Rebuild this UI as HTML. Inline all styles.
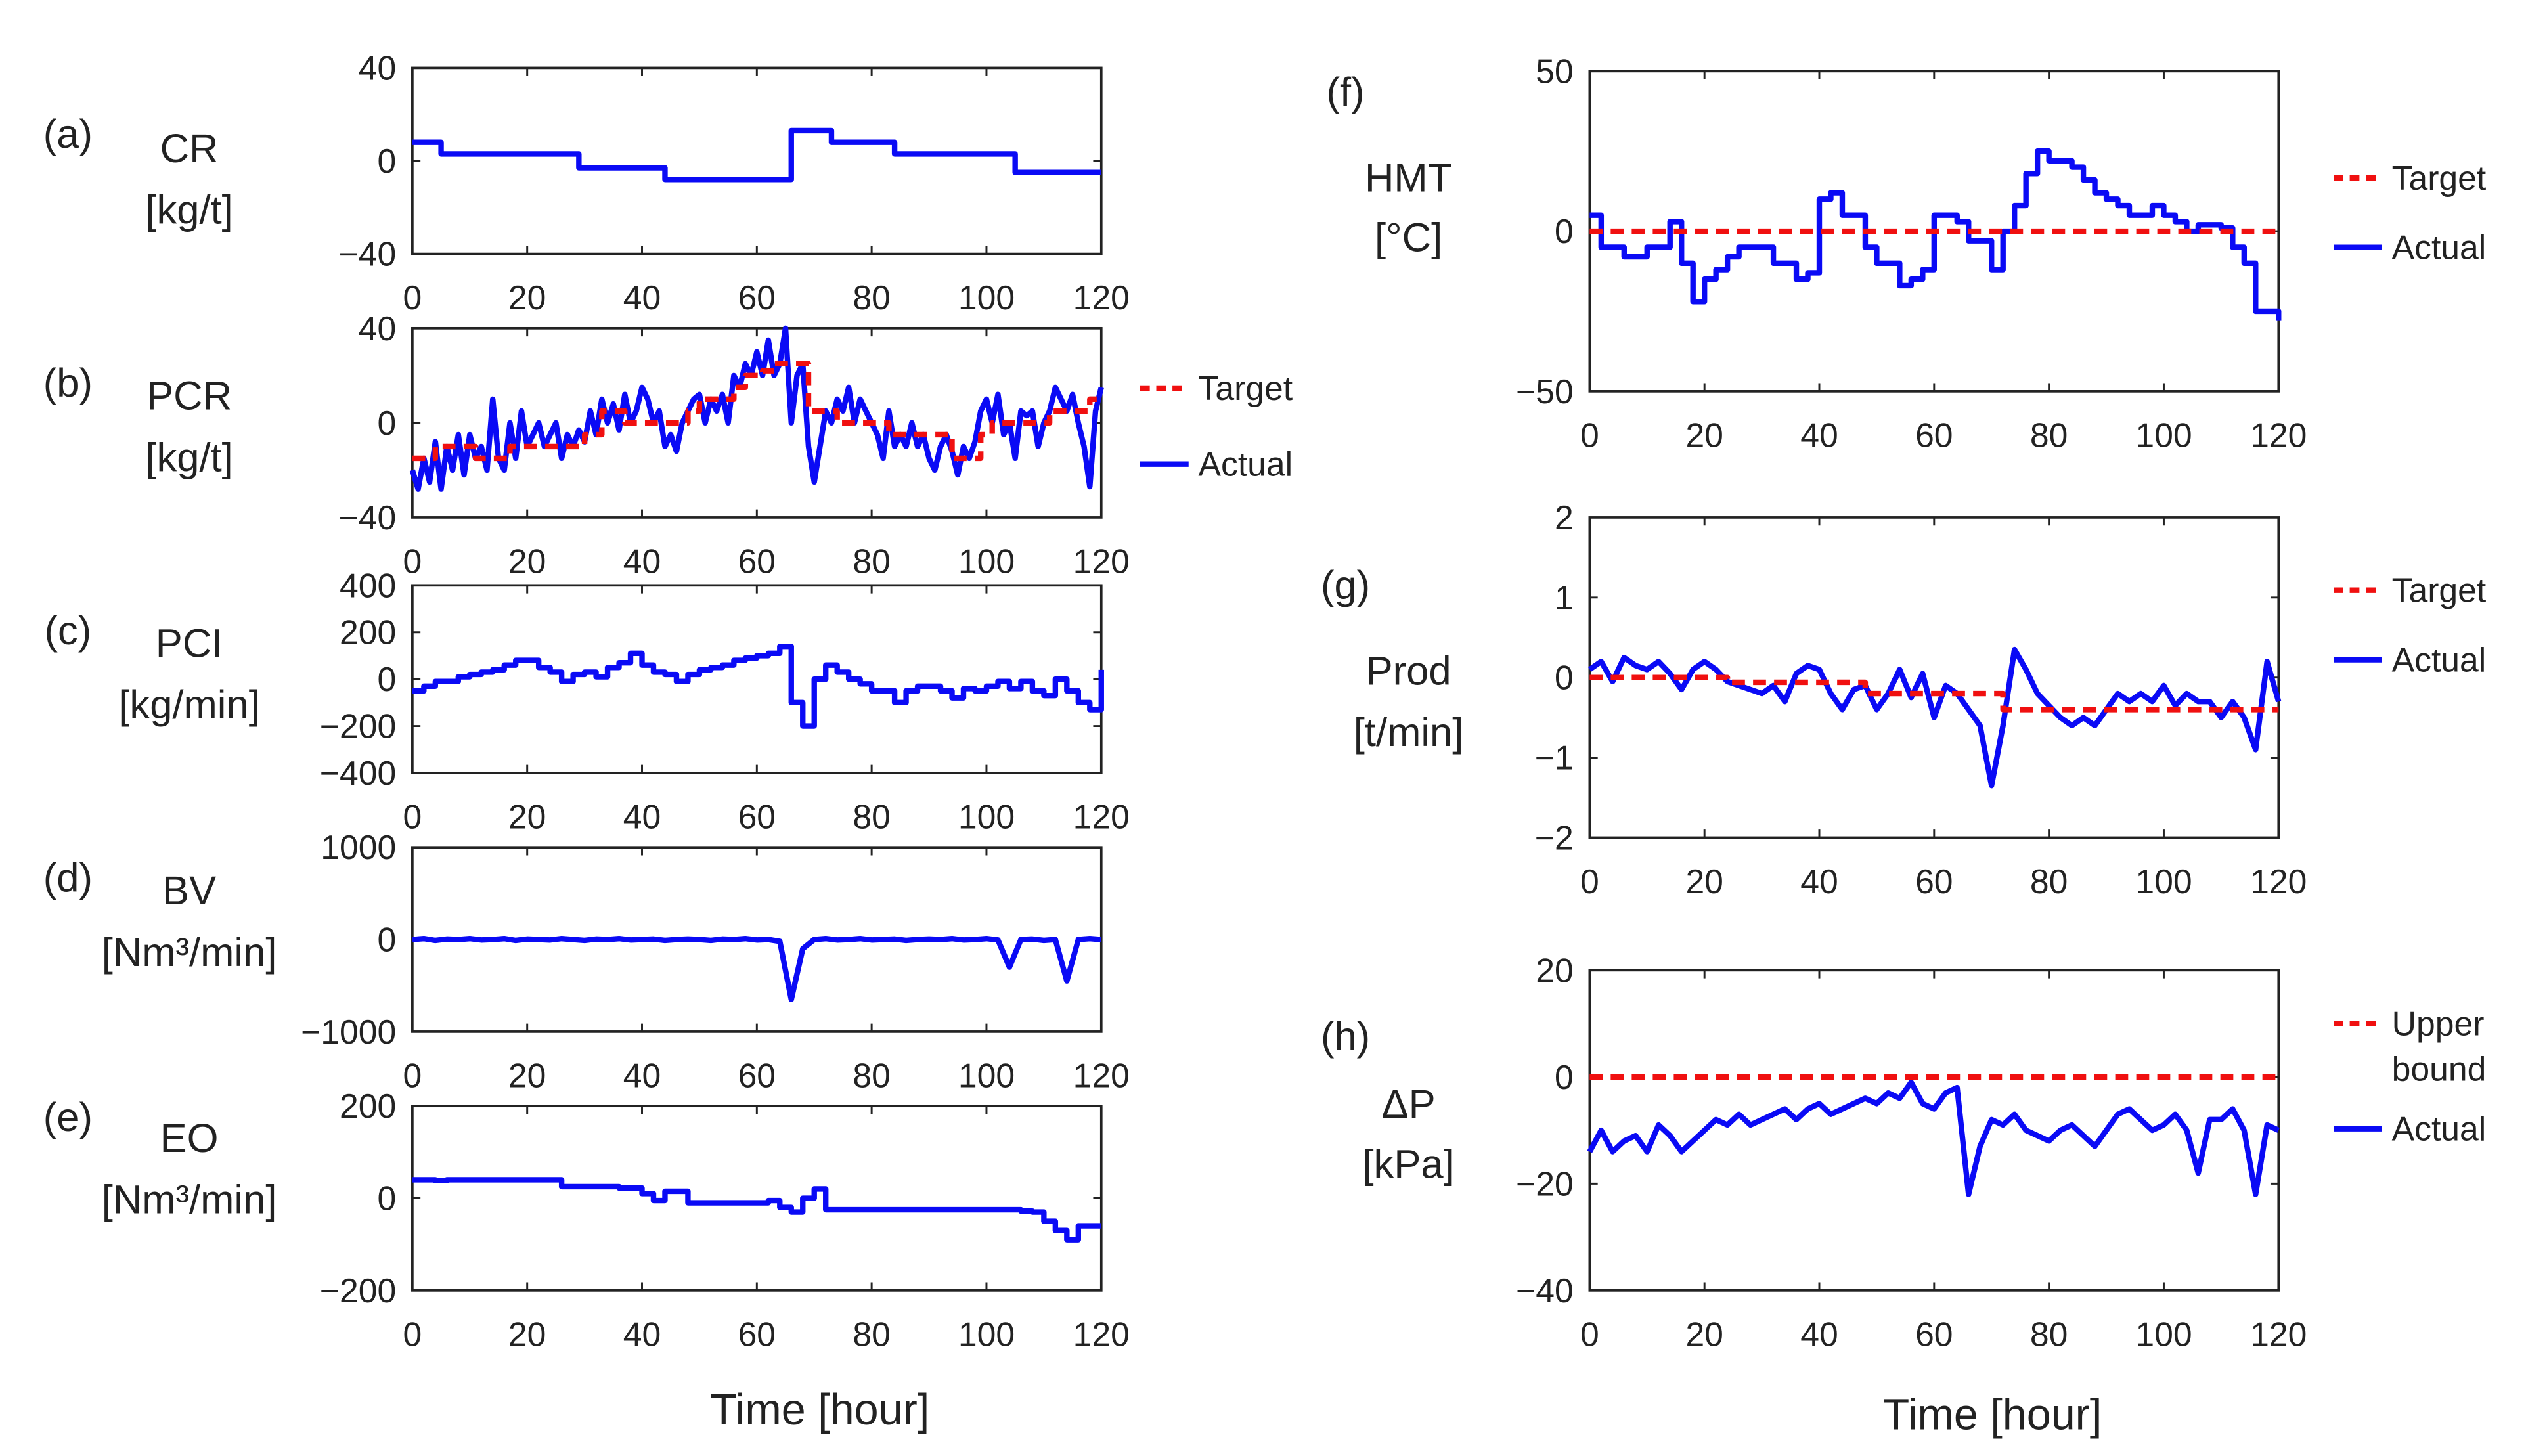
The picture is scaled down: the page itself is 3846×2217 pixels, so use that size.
<!DOCTYPE html>
<html><head><meta charset="utf-8"><style>
html,body{margin:0;padding:0;background:#fff}
svg{display:block}
text{font-family:"Liberation Sans","Noto Sans CJK JP",sans-serif;fill:#222}
</style></head><body>
<svg id="fig" width="3846" height="2217" viewBox="0 0 1562 900.4" xmlns="http://www.w3.org/2000/svg"></svg>
<script>
// ---- data ----
const crSteps = [[0,8],[5,3],[29,-3],[44,-8],[66,13],[73,8],[84,3],[105,-5],[120,-5]];
const pcrTarget = [[0,-15],[4,-10],[11,-15],[17,-10],[30,-5],[33,5],[37,0],[48,5],[50,10],[56,15],[58,20],[61,22],[63,25],[69,5],[74,0],[83,-5],[94,-15],[99,-5],[101,0],[111,5],[118,10],[120,10]];
const pcrActual = [-20,-28,-15,-25,-8,-28,-10,-20,-5,-22,-5,-15,-10,-20,10,-15,-20,0,-15,5,-10,-5,0,-10,-5,0,-15,-5,-10,-3,-8,5,-5,10,0,8,-3,12,0,5,15,10,0,5,-10,-5,-12,0,5,10,12,0,10,5,12,0,20,15,25,20,30,20,35,20,25,40,0,20,25,-10,-25,-10,5,0,10,5,15,0,10,5,0,-5,-15,5,-10,-5,-10,0,-10,-5,-15,-20,-10,-5,-12,-22,-10,-15,-8,5,10,0,12,-5,0,-15,5,3,5,-10,0,5,15,10,5,12,0,-10,-27,5,15];
const pciActual = [-50,-30,-10,-10,10,20,30,40,60,80,80,50,30,-10,20,30,10,50,70,110,60,30,20,-10,20,40,50,60,80,90,100,110,140,-100,-200,0,60,30,0,-20,-50,-50,-100,-50,-30,-30,-50,-80,-40,-50,-30,-10,-40,-10,-50,-70,0,-50,-100,-130,40];
const bvActual = [0,10,-10,5,0,10,-5,0,10,-10,5,0,-5,10,0,-10,5,0,10,-5,0,5,-10,0,5,0,-10,5,0,10,-5,0,-20,-650,-100,0,10,-5,0,10,-5,0,5,-10,0,5,0,10,-5,0,10,-5,-300,0,5,-10,0,-450,0,10,0];
const eoActual = [40,40,38,40,40,40,40,40,40,40,40,40,40,25,25,25,25,25,22,22,10,-5,15,15,-10,-10,-10,-10,-10,-10,-10,-5,-20,-30,0,20,-25,-25,-25,-25,-25,-25,-25,-25,-25,-25,-25,-25,-25,-25,-25,-25,-25,-28,-30,-50,-70,-90,-60,-60,-60];
const hmtActual = [5,-5,-5,-8,-8,-5,-5,3,-10,-22,-15,-12,-8,-5,-5,-5,-10,-10,-15,-13,10,12,5,5,-5,-10,-10,-17,-15,-12,5,5,3,-3,-3,-12,0,8,18,25,22,22,20,16,12,10,8,5,5,8,5,3,0,2,2,1,-5,-10,-25,-25,-28];
const prodTarget = [[0,0],[24,-0.06],[48,-0.2],[72,-0.4],[120,-0.4]];
const prodActual = [0.1,0.2,-0.05,0.25,0.15,0.1,0.2,0.05,-0.15,0.1,0.2,0.1,-0.05,-0.1,-0.15,-0.2,-0.1,-0.3,0.05,0.15,0.1,-0.2,-0.4,-0.15,-0.1,-0.4,-0.2,0.1,-0.25,0.05,-0.5,-0.1,-0.2,-0.4,-0.6,-1.35,-0.6,0.35,0.1,-0.2,-0.35,-0.5,-0.6,-0.5,-0.6,-0.4,-0.2,-0.3,-0.2,-0.3,-0.1,-0.35,-0.2,-0.3,-0.3,-0.5,-0.3,-0.5,-0.9,0.2,-0.3];
const dpActual = [-14,-10,-14,-12,-11,-14,-9,-11,-14,-12,-10,-8,-9,-7,-9,-8,-7,-6,-8,-6,-5,-7,-6,-5,-4,-5,-3,-4,-1,-5,-6,-3,-2,-22,-13,-8,-9,-7,-10,-11,-12,-10,-9,-11,-13,-10,-7,-6,-8,-10,-9,-7,-10,-18,-8,-8,-6,-10,-22,-9,-10];
const xTicks = [0,20,40,60,80,100,120];

const NS='http://www.w3.org/2000/svg';
const svg=document.getElementById('fig');
function el(tag,attrs,parent){const e=document.createElementNS(NS,tag);for(const k in attrs)e.setAttribute(k,attrs[k]);(parent||svg).appendChild(e);return e;}
function txt(s,x,y,size,name,anchor,parent){const t=el('text',{x:x,y:y,'font-size':size,'text-anchor':anchor||'middle','dominant-baseline':'central'},parent);t.textContent=s;


return t;}

function panel(id,x0,x1,y0,y1,ymin,ymax,yticks){
  const g=el('g',{});
  
  
  const sx=v=>x0+(v/120)*(x1-x0), sy=v=>y1-(v-ymin)/(ymax-ymin)*(y1-y0);
  const box=el('rect',{x:x0,y:y0,width:x1-x0,height:y1-y0,fill:'none',stroke:'#222','stroke-width':1.5},g);
  
  
  xTicks.forEach(t=>{const X=sx(t);
    const l=el('path',{d:`M${X},${y1}v-5M${X},${y0}v5`,stroke:'#222','stroke-width':1.2},g);
    
    
    txt(String(t),X,y1+27,21,'x-tick-label','middle',g);});
  yticks.forEach(t=>{const Y=sy(t);
    const l=el('path',{d:`M${x0},${Y}h5M${x1},${Y}h-5`,stroke:'#222','stroke-width':1.2},g);
    
    
    txt(String(t).replace('-','−'),x0-10,Y,21,'y-tick-label','end',g);});
  return {g,sx,sy};
}
function stepPath(P,steps){let d='';steps.forEach((s,i)=>{const X=P.sx(s[0]),Y=P.sy(s[1]);if(i==0)d=`M${X},${Y}`;else{d+=`H${X}V${Y}`;}});d+=`H${P.sx(120)}`;return d;}
function linePath(P,vals){return vals.map((v,i)=>(i?'L':'M')+P.sx(i*120/(vals.length-1))+','+P.sy(v)).join('');}
function stairPath(P,vals){const n=vals.length-1;let d='';vals.forEach((v,i)=>{const X=P.sx(i*120/n),Y=P.sy(v);d+=i?`H${X}V${Y}`:`M${X},${Y}`;});return d;}
function series(P,d,name,color,dash){const p=el('path',{d:d,fill:'none',stroke:color,'stroke-width':3.4,'stroke-linejoin':'round','stroke-dasharray':dash||'none'},P.g);

}
function legend(x,y,label,color,dash,name){const l=el('path',{d:`M${x},${y}h30`,stroke:color,'stroke-width':3.4,'stroke-dasharray':dash||'none'});


txt(label,x+36,y,21,name,'start');}

const BLUE='#0a0af5',RED='#f01010',DASH='8,5';
let P=panel('a',255,681,42,157,-40,40,[-40,0,40]);
series(P,stepPath(P,crSteps),'cr-line',BLUE);
P=panel('b',255,681,203,320,-40,40,[-40,0,40]);
series(P,linePath(P,pcrActual),'pcr-actual-line',BLUE);
series(P,stepPath(P,pcrTarget),'pcr-target-line',RED,DASH);
P=panel('c',255,681,362,478,-400,400,[-400,-200,0,200,400]);
series(P,stairPath(P,pciActual),'pci-line',BLUE);
P=panel('d',255,681,524,638,-1000,1000,[-1000,0,1000]);
series(P,linePath(P,bvActual),'bv-line',BLUE);
P=panel('e',255,681,684,798,-200,200,[-200,0,200]);
series(P,stairPath(P,eoActual),'eo-line',BLUE);
P=panel('f',983,1409,44,242,-50,50,[-50,0,50]);
series(P,stairPath(P,hmtActual),'hmt-actual-line',BLUE);
series(P,`M${P.sx(0)},${P.sy(0)}H${P.sx(120)}`,'hmt-target-line',RED,DASH);
P=panel('g',983,1409,320,518,-2,2,[-2,-1,0,1,2]);
series(P,linePath(P,prodActual),'prod-actual-line',BLUE);
series(P,stepPath(P,prodTarget),'prod-target-line',RED,DASH);
P=panel('h',983,1409,600,798,-40,20,[-40,-20,0,20]);
series(P,linePath(P,dpActual),'dp-actual-line',BLUE);
series(P,`M${P.sx(0)},${P.sy(0)}H${P.sx(120)}`,'dp-upper-bound-line',RED,DASH);

legend(705,240,'Target',RED,'6,4','legend-target-b');
legend(705,287,'Actual',BLUE,null,'legend-actual-b');
legend(1443,110,'Target',RED,'6,4','legend-target-f');
legend(1443,153,'Actual',BLUE,null,'legend-actual-f');
legend(1443,365,'Target',RED,'6,4','legend-target-g');
legend(1443,408,'Actual',BLUE,null,'legend-actual-g');
legend(1443,633,'Upper',RED,'6,4','legend-upper-bound-h');
txt('bound',1479,661,21,'legend-upper-bound-h-line2','start');
legend(1443,698,'Actual',BLUE,null,'legend-actual-h');

const labs=[['(a)',42,83,'CR',117,92,'[kg/t]',117,130],
['(b)',42,237,'PCR',117,245,'[kg/t]',117,283],
['(c)',42,390,'PCI',117,398,'[kg/min]',117,436],
['(d)',42,543,'BV',117,551,'[Nm³/min]',117,589],
['(e)',42,691,'EO',117,704,'[Nm³/min]',117,742],
['(f)',832,57,'HMT',871,110,'[°C]',871,147],
['(g)',832,362,'Prod',871,415,'[t/min]',871,453],
['(h)',832,641,'ΔP',871,683,'[kPa]',871,720]];
labs.forEach(l=>{txt(l[0],l[1],l[2],25,'panel-letter','middle');txt(l[3],l[4],l[5],25,'y-axis-title','middle');txt(l[6],l[7],l[8],25,'y-axis-unit','middle');});
txt('Time [hour]',507,872,27,'x-axis-title-left','middle');
txt('Time [hour]',1232,875,27,'x-axis-title-right','middle');
</script>
</body></html>
